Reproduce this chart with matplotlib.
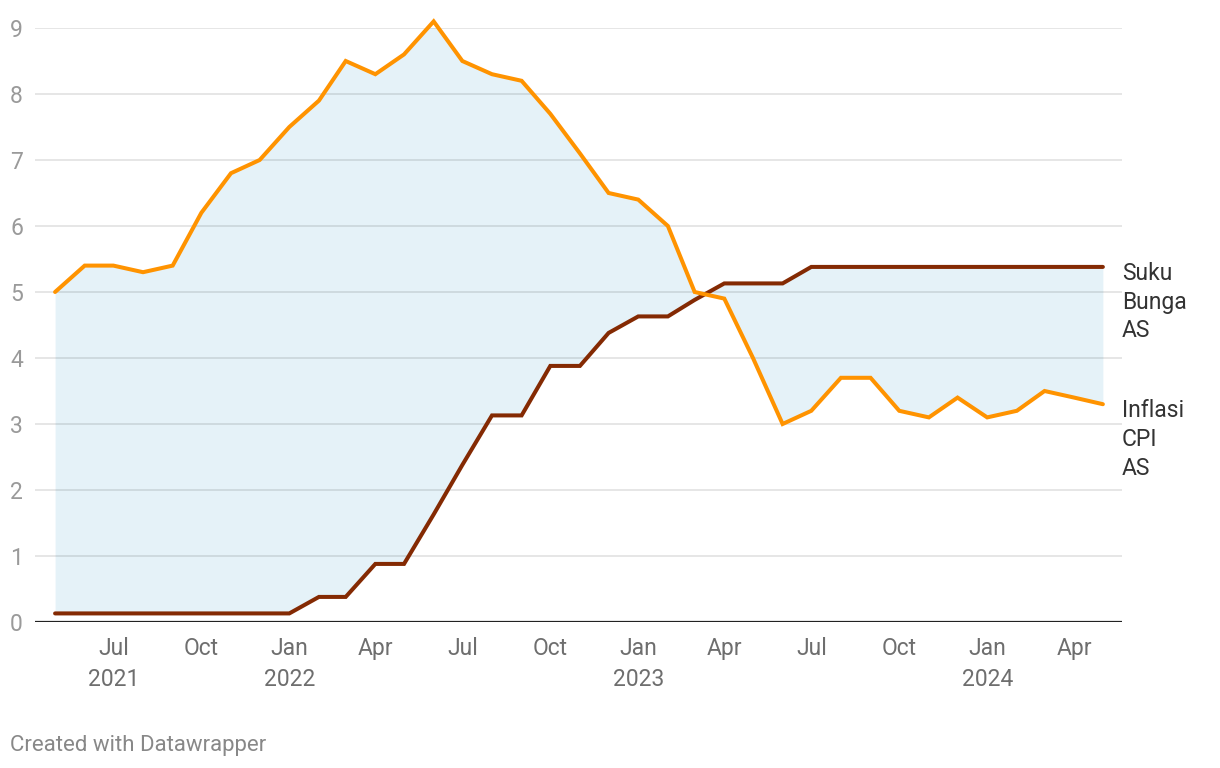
import matplotlib
matplotlib.use("Agg")
import matplotlib.pyplot as plt
import pandas as pd

ORANGE = "#ff9300"
BROWN = "#842a03"
FILL = "#e5f2f8"
INK, MUTE, LIGHT = "#333333", "#6e6e6e", "#9a9a9a"

plt.rcParams.update({"font.family": ["Roboto", "DejaVu Sans"], "font.size": 16.5})

# monthly, May 2021 .. May 2024
months = pd.date_range("2021-05-01", "2024-05-01", freq="MS")
inflasi = [5.0, 5.4, 5.4, 5.3, 5.4, 6.2, 6.8, 7.0,
           7.5, 7.9, 8.5, 8.3, 8.6, 9.1, 8.5, 8.3, 8.2, 7.7, 7.1, 6.5,
           6.4, 6.0, 5.0, 4.9, 4.0, 3.0, 3.2, 3.7, 3.7, 3.2, 3.1, 3.4,
           3.1, 3.2, 3.5, 3.4, 3.3]
suku_bunga = [0.13] * 8 + \
    [0.13, 0.38, 0.38, 0.88, 0.88, 1.63, 2.38, 3.13, 3.13, 3.88, 3.88, 4.38] + \
    [4.63, 4.63, 4.88, 5.13, 5.13, 5.13, 5.38, 5.38, 5.38, 5.38, 5.38, 5.38] + \
    [5.38] * 5

tick_dates = pd.date_range("2021-07-01", "2024-04-01", freq="3MS")
tick_labels = ["Jul\n2021", "Oct", "Jan\n2022", "Apr", "Jul", "Oct", "Jan\n2023",
               "Apr", "Jul", "Oct", "Jan\n2024", "Apr"]
yticks = list(range(10))
series_labels = ["Suku\nBunga\nAS", "Inflasi\nCPI\nAS"]

W, H = 1220, 768
fig = plt.figure(figsize=(W / 100, H / 100), dpi=100)
ax = fig.add_axes([35 / W, (H - 622) / H, (1122 - 35) / W, (622 - 28) / H])

ax.fill_between(months, inflasi, suku_bunga, color=FILL, lw=0, zorder=1, interpolate=True)
for v in yticks[1:]:
    ax.axhline(v, color="black", alpha=0.1, lw=1.4, zorder=2)
ax.axhline(0, color="#222222", lw=1.6, zorder=3)

ax.plot(months, suku_bunga, color=BROWN, lw=2.9, zorder=4, clip_on=False,
        solid_joinstyle="miter", solid_capstyle="round")
ax.plot(months, inflasi, color=ORANGE, lw=2.9, zorder=5, clip_on=False,
        solid_joinstyle="miter", solid_capstyle="round")

ax.set_ylim(0, 9)
ax.set_xlim(months[0] - pd.Timedelta(days=21), months[-1] + pd.Timedelta(days=20))

ax.set_yticks(yticks)
ax.set_yticklabels([str(v) for v in yticks], color=LIGHT, ha="left")
ax.tick_params(axis="y", length=0, pad=18)
ax.set_xticks(tick_dates)
ax.set_xticklabels(tick_labels, color=MUTE, linespacing=1.42)
ax.tick_params(axis="x", length=0, pad=11)
for s in ax.spines.values():
    s.set_visible(False)

for lab, vals in zip(series_labels, [suku_bunga, inflasi]):
    ax.annotate(lab, xy=(months[-1], vals[-1]), xytext=(19, 5), textcoords="offset pixels",
                ha="left", va="top", color=INK, linespacing=1.32, annotation_clip=False)

fig.text(10 / W, 1 - 745 / H, "Created with Datawrapper", ha="left", va="center",
         color="#888888", fontsize=16)

fig.savefig("out.png", dpi=100, facecolor="white")
